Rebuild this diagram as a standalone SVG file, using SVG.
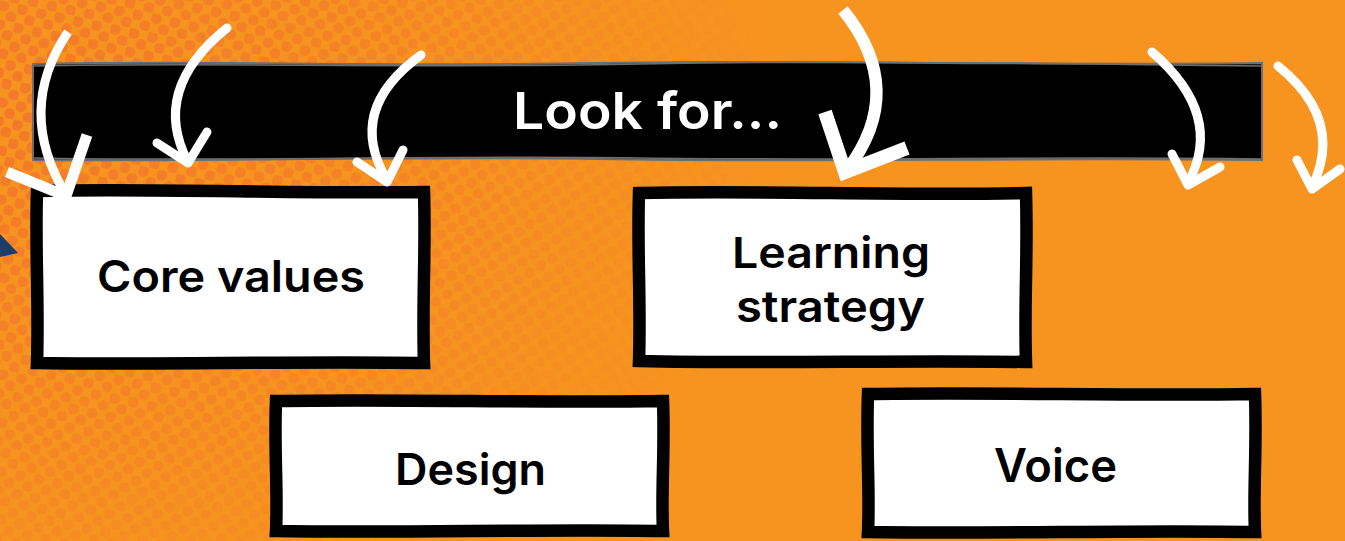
<svg xmlns="http://www.w3.org/2000/svg" width="1345" height="541" viewBox="0 0 1345 541">
<style>
.box{fill:#fff;stroke:#000;stroke-width:12.5;stroke-linejoin:miter}
.lbl{font-family:Inter,"Noto Sans","Liberation Sans",sans-serif;font-weight:600;fill:#000;text-anchor:start}
.hdr{font-family:Inter,"Noto Sans","Liberation Sans",sans-serif;font-weight:600;fill:#fff}
.arr{fill:none;stroke:#fff;stroke-width:9;stroke-linecap:round;stroke-linejoin:round}
.arrb{fill:none;stroke:#fff;stroke-linecap:butt;stroke-linejoin:miter}
</style>
<defs>
<pattern id="dots" width="19" height="19" patternUnits="userSpaceOnUse" patternTransform="rotate(12)">
<circle cx="4.75" cy="4.75" r="5.6" fill="#F3792B"/>
<circle cx="14.25" cy="14.25" r="5.6" fill="#F3792B"/>
</pattern>
<radialGradient id="fade" cx="0" cy="120" r="780" gradientUnits="userSpaceOnUse" gradientTransform="translate(0,120) scale(1,0.72) translate(0,-120)">
<stop offset="0" stop-color="#fff" stop-opacity="1"/>
<stop offset="0.5" stop-color="#fff" stop-opacity="0.6"/>
<stop offset="1" stop-color="#fff" stop-opacity="0"/>
</radialGradient>
<mask id="m"><rect width="1345" height="541" fill="url(#fade)"/></mask>
</defs>
<rect width="1345" height="541" fill="#F7941F"/>
<rect width="1345" height="541" fill="url(#dots)" mask="url(#m)"/>
<polygon points="0,234 18,253 0,257" fill="#1B3D6B"/>

<g id="header">
<path d="M33,64 C200,60 380,67 600,63 C800,59 1000,66 1262,63 L1262,160 C1000,157 820,163 600,159 C400,156 200,162 33,160 Z" fill="#000" stroke="#6e6e6e" stroke-width="2"/>
<path d="M33,66 C220,62 420,69 640,64 C860,60 1050,64 1262,66" fill="none" stroke="#6e6e6e" stroke-width="1.5"/>
<path d="M33,158 C230,162 430,155 640,158 C860,161 1050,156 1262,159" fill="none" stroke="#6e6e6e" stroke-width="1.5"/>
<text class="hdr" x="513" y="129" font-size="51" textLength="269" lengthAdjust="spacingAndGlyphs">Look for...</text>
</g>

<g id="core-values">
<path class="box" d="M37,191 C150,188 300,194 424,192 C426,250 422,300 424,363 C300,361 150,365 37,363 C39,300 35,250 37,191 Z"/>
<text class="lbl" x="97" y="292" font-size="44" textLength="268" lengthAdjust="spacingAndGlyphs">Core values</text>
</g>

<g id="learning-strategy">
<path class="box" d="M639,193 C760,190 900,196 1026,193 C1028,260 1024,300 1026,362 C900,360 760,364 639,361 C641,300 637,250 639,193 Z"/>
<text class="lbl" x="732" y="268" font-size="43" textLength="198" lengthAdjust="spacingAndGlyphs">Learning</text>
<text class="lbl" x="736" y="322" font-size="43" textLength="189" lengthAdjust="spacingAndGlyphs">strategy</text>
</g>

<g id="design">
<path class="box" d="M276,401 C400,399 540,403 663,401 C665,450 661,490 663,531 C540,529 400,533 276,531 C278,490 274,450 276,401 Z"/>
<text class="lbl" x="395" y="485" font-size="44" textLength="151" lengthAdjust="spacingAndGlyphs">Design</text>
</g>

<g id="voice">
<path class="box" d="M868,394 C990,392 1130,396 1255,394 C1257,450 1253,490 1255,532 C1130,530 990,534 868,532 C870,490 866,450 868,394 Z"/>
<text class="lbl" x="994" y="482" font-size="46" textLength="123" lengthAdjust="spacingAndGlyphs">Voice</text>
</g>

<g id="connectors">
<path class="arrb" stroke-width="9" d="M68,32 Q15,110 66,195"/>
<path class="arrb" stroke-width="11" d="M7,172 L66,196 L87,135"/>
<path class="arr" d="M227,28 Q150,90 188,162"/>
<path class="arr" d="M157,143 L188,163 L207,132"/>
<path class="arr" d="M421,55 Q345,110 387,180"/>
<path class="arr" d="M357,162 L387,182 L403,150"/>
<path class="arrb" stroke-width="12" d="M843,10 Q908,90 847,170"/>
<path class="arrb" stroke-width="14" d="M825,112 L845,172 L907,148"/>
<path class="arr" stroke-width="10" d="M1152,52 Q1225,115 1188,183"/>
<path class="arr" stroke-width="10" d="M1172,154 L1188,185 L1220,167"/>
<path class="arr" stroke-width="10" d="M1278,66 Q1345,120 1312,187"/>
<path class="arr" stroke-width="10" d="M1297,160 L1312,189 L1340,169"/>
</g>
</svg>
